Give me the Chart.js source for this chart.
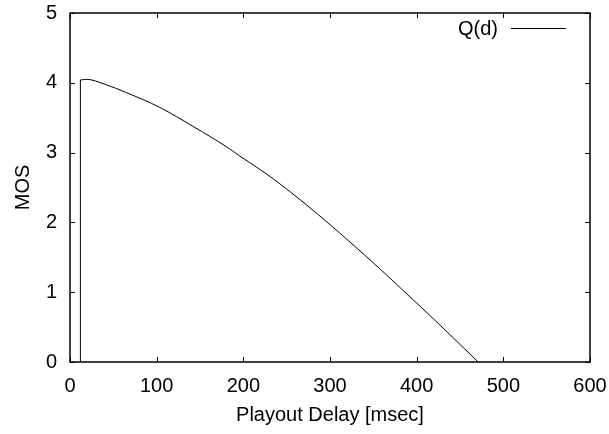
<!DOCTYPE html>
<html>
<head>
<meta charset="utf-8">
<style>
  html, body { margin: 0; padding: 0; background: #fff; }
  #wrap { width: 609px; height: 434px; }
</style>
<script src="https://cdn.jsdelivr.net/npm/chart.js@4.4.1/dist/chart.umd.min.js"></script>
</head>
<body>
<div id="wrap"><canvas id="c" width="609" height="434"></canvas></div>
<script>
// Data
const seriesLabel = 'Q(d)';
const delayMs = [12, 12, 19, 40, 65, 104, 142, 181, 196, 219, 235, 273, 311, 350, 358, 396, 415, 471];
const mosValues = [0, 4.04, 4.05, 3.98, 3.86, 3.645, 3.375, 3.08, 2.95, 2.76, 2.62, 2.25, 1.85, 1.42, 1.33, 0.89, 0.67, 0];
const xTicks = [0, 100, 200, 300, 400, 500, 600];
const yTicks = [0, 1, 2, 3, 4, 5];
const xTitle = 'Playout Delay [msec]';
const yTitle = 'MOS';

const FONT = '"Liberation Sans", Arial, Helvetica, sans-serif';

const points = delayMs.map((d, i) => ({ x: d, y: mosValues[i] }));
// the vertical start-up segment (first two points) and the smooth curve (rest)
const dropPoints = points.slice(0, 2);
const curvePoints = points.slice(1);

function zeroPad(s) { s.paddingLeft = 0; s.paddingRight = 0; s.paddingTop = 0; s.paddingBottom = 0; }

const gnuplotFrame = {
  id: 'gnuplotFrame',
  afterDatasetsDraw(chart) {
    const { ctx, chartArea: a, scales } = chart;
    ctx.save();
    ctx.strokeStyle = '#000';
    ctx.lineWidth = 1;
    const tl = 5;
    ctx.beginPath();
    xTicks.forEach(v => {
      const px = Math.round(scales.x.getPixelForValue(v)) + 0.5;
      ctx.moveTo(px, a.bottom); ctx.lineTo(px, a.bottom - tl);
      ctx.moveTo(px, a.top); ctx.lineTo(px, a.top + tl);
    });
    yTicks.forEach(v => {
      const py = Math.round(scales.y.getPixelForValue(v)) + 0.5;
      ctx.moveTo(a.left, py); ctx.lineTo(a.left + tl, py);
      ctx.moveTo(a.right, py); ctx.lineTo(a.right - tl, py);
    });
    ctx.stroke();
    ctx.lineWidth = 1.5;
    ctx.strokeRect(a.left, a.top, a.right - a.left, a.bottom - a.top);
    // key inside the plot, gnuplot style
    const ds = chart.data.datasets[0];
    const ky = a.top + 15;
    ctx.font = '20px ' + FONT;
    ctx.fillStyle = '#000';
    ctx.textAlign = 'right';
    ctx.textBaseline = 'middle';
    ctx.fillText(ds.label, a.right - 92, ky + 1);
    ctx.lineWidth = 1;
    ctx.strokeStyle = ds.borderColor;
    ctx.beginPath();
    ctx.moveTo(a.right - 79, ky + 0.5);
    ctx.lineTo(a.right - 24, ky + 0.5);
    ctx.stroke();
    ctx.restore();
  }
};

Chart.defaults.color = '#000';
Chart.defaults.font.family = FONT;

new Chart(document.getElementById('c'), {
  type: 'scatter',
  data: {
    datasets: [{
      label: seriesLabel,
      data: curvePoints,
      showLine: true,
      borderColor: '#000',
      backgroundColor: '#000',
      borderWidth: 1,
      pointRadius: 0,
      cubicInterpolationMode: 'monotone',
      fill: false
    }, {
      label: seriesLabel,
      data: dropPoints,
      showLine: true,
      borderColor: '#000',
      backgroundColor: '#000',
      borderWidth: 1,
      pointRadius: 0,
      tension: 0,
      fill: false
    }]
  },
  options: {
    responsive: false,
    animation: false,
    devicePixelRatio: 1,
    layout: { padding: { top: 13, right: 19, left: 0, bottom: 0 } },
    plugins: { legend: { display: false }, tooltip: { enabled: false } },
    scales: {
      x: {
        type: 'linear',
        min: 0, max: 600,
        afterBuildTicks: (s) => { s.ticks = xTicks.map(v => ({ value: v })); },
        afterFit: (s) => { s.height = 72; zeroPad(s); },
        grid: { display: false, drawTicks: false },
        border: { display: false },
        ticks: { padding: 12, font: { size: 20 }, color: '#000', maxRotation: 0 },
        title: { display: true, text: xTitle, font: { size: 20 }, color: '#000', padding: { top: 0, bottom: 7 } }
      },
      y: {
        type: 'linear',
        min: 0, max: 5,
        afterBuildTicks: (s) => { s.ticks = yTicks.map(v => ({ value: v })); },
        afterFit: (s) => { s.width = 70; zeroPad(s); },
        grid: { display: false, drawTicks: false },
        border: { display: false },
        ticks: { padding: 13, font: { size: 20 }, color: '#000' },
        title: { display: true, text: yTitle, font: { size: 20 }, color: '#000', padding: { top: 11, bottom: 0 } }
      }
    }
  },
  plugins: [gnuplotFrame]
});
</script>
</body>
</html>
